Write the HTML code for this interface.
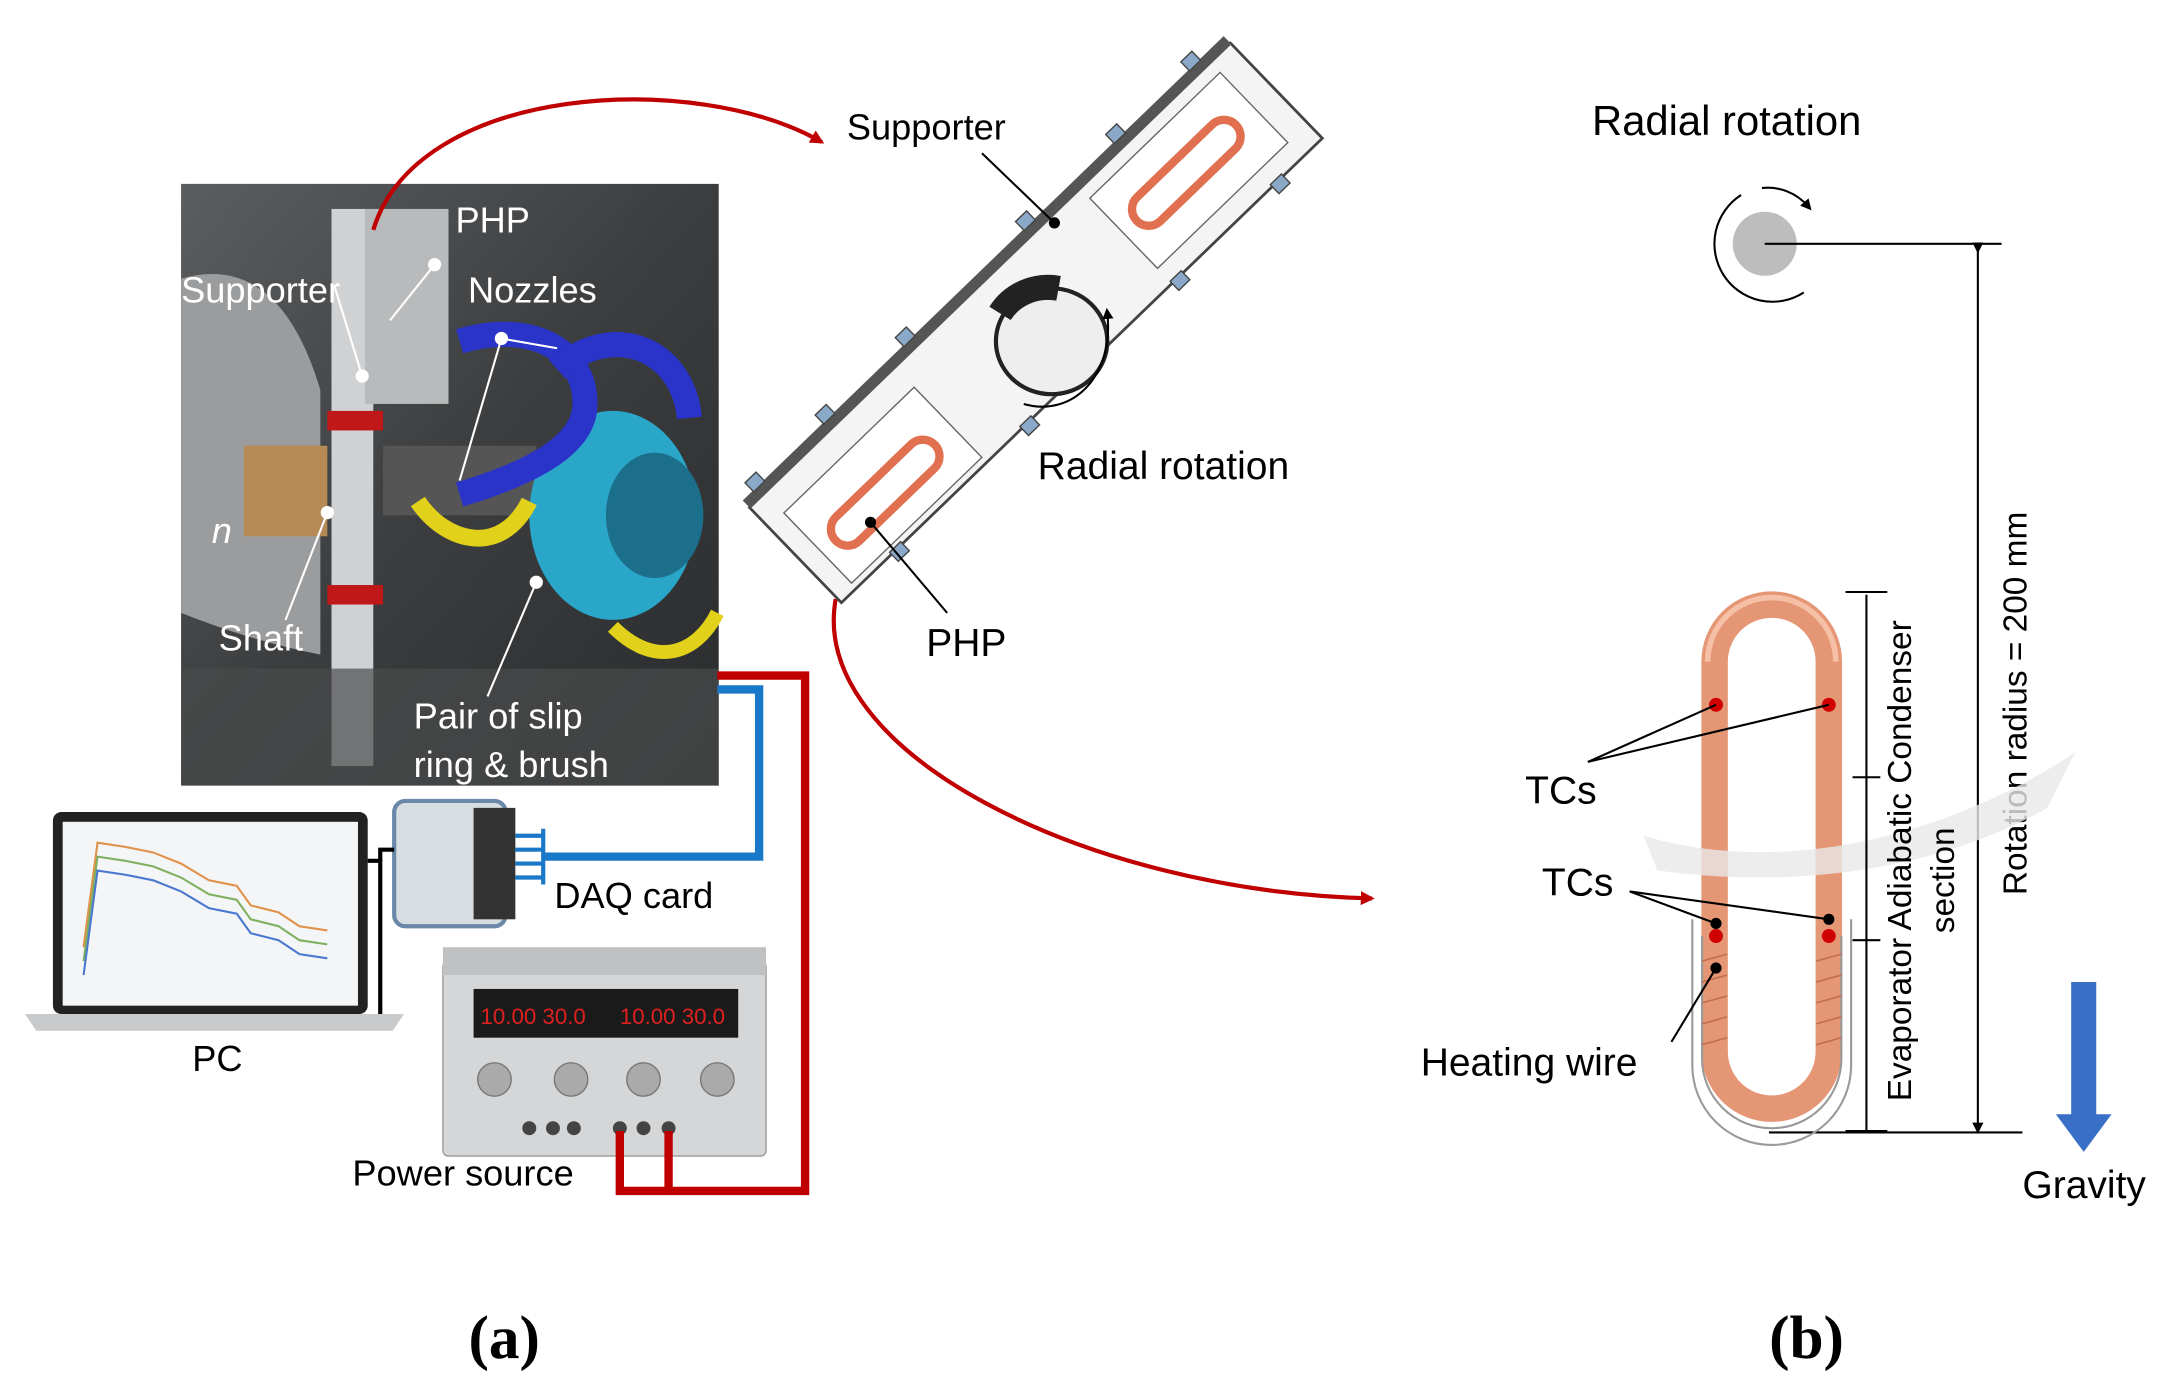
<!DOCTYPE html>
<html><head><meta charset="utf-8"><style>
html,body{margin:0;padding:0;background:#fff;}
svg{display:block;}
text{font-family:"Liberation Sans",sans-serif;}
</style></head><body>
<svg width="2184" height="1389" viewBox="0 0 1568 997.2" xmlns="http://www.w3.org/2000/svg">
<defs>
<marker id="ar" markerWidth="10" markerHeight="10" refX="8" refY="5" orient="auto" markerUnits="userSpaceOnUse"><path d="M0,0 L10,5 L0,10 Z" fill="#c00000"/></marker>
<marker id="ab" markerWidth="8" markerHeight="8" refX="4" refY="4" orient="auto" markerUnits="userSpaceOnUse"><path d="M0,0 L8,4 L0,8 Z" fill="#000"/></marker>
<linearGradient id="ph" x1="0" y1="0" x2="1" y2="1"><stop offset="0" stop-color="#5b5d5f"/><stop offset="0.5" stop-color="#3b3d3f"/><stop offset="1" stop-color="#2a2b2c"/></linearGradient>
</defs>

<!-- Photo (a) -->
<rect x="130" y="132" width="386" height="432" fill="url(#ph)"/>
<path d="M130,200 Q200,180 230,280 L230,470 Q180,460 130,440 Z" fill="#9a9c9e"/>
<rect x="238" y="150" width="30" height="400" fill="#cfd1d2"/>
<rect x="262" y="150" width="60" height="140" fill="#b8babb"/>
<rect x="235" y="295" width="40" height="14" fill="#c01818"/>
<rect x="235" y="420" width="40" height="14" fill="#c01818"/>
<rect x="175" y="320" width="60" height="65" fill="#b58a55"/>
<rect x="275" y="320" width="110" height="50" fill="#555"/>
<ellipse cx="440" cy="370" rx="60" ry="75" fill="#2aa6c9"/>
<ellipse cx="470" cy="370" rx="35" ry="45" fill="#1c6f8a"/>
<path d="M330,245 C380,230 420,250 420,290 C420,320 380,340 330,355" stroke="#2a34c8" stroke-width="18" fill="none"/>
<path d="M400,265 C440,230 490,250 495,300" stroke="#2a34c8" stroke-width="18" fill="none"/>
<path d="M300,360 C320,390 360,400 380,360" stroke="#e2d11a" stroke-width="12" fill="none"/>
<path d="M440,450 C470,480 500,470 515,440" stroke="#e2d11a" stroke-width="10" fill="none"/>
<rect x="130" y="480" width="386" height="84" fill="#4a4b4c" opacity="0.7"/>
<text x="327" y="167" font-size="26" fill="#fff">PHP</text>
<text x="130" y="217" font-size="26" fill="#fff">Supporter</text>
<text x="336" y="217" font-size="26" fill="#fff">Nozzles</text>
<text x="157" y="467" font-size="26" fill="#fff">Shaft</text>
<text x="152" y="390" font-size="26" fill="#fff" font-style="italic">n</text>
<text x="297" y="523" font-size="26" fill="#fff">Pair of slip</text>
<text x="297" y="558" font-size="26" fill="#fff">ring &amp; brush</text>
<g stroke="#fff" stroke-width="1.5" fill="#fff">
<line x1="312" y1="190" x2="280" y2="230"/><circle cx="312" cy="190" r="4"/>
<line x1="360" y1="243" x2="330" y2="345"/><circle cx="360" cy="243" r="4"/>
<line x1="360" y1="243" x2="400" y2="250"/>
<line x1="235" y1="368" x2="205" y2="445"/><circle cx="235" cy="368" r="4"/>
<line x1="385" y1="418" x2="350" y2="500"/><circle cx="385" cy="418" r="4"/>
<line x1="260" y1="270" x2="240" y2="205"/><circle cx="260" cy="270" r="4"/>
</g>

<!-- Laptop -->
<rect x="38" y="583" width="226" height="145" rx="6" fill="#222"/>
<rect x="45" y="590" width="212" height="132" fill="#f4f5f7"/>
<polyline points="60,680 70,605 90,608 110,612 130,620 150,632 170,636 180,650 200,655 215,665 235,668" stroke="#e0914a" stroke-width="1.5" fill="none"/>
<polyline points="60,690 70,615 90,618 110,622 130,630 150,642 170,646 180,660 200,665 215,675 235,678" stroke="#7fb060" stroke-width="1.5" fill="none"/>
<polyline points="60,700 70,625 90,628 110,632 130,640 150,652 170,656 180,670 200,675 215,685 235,688" stroke="#4a78d0" stroke-width="1.5" fill="none"/>
<path d="M18,728 L290,728 L282,740 L26,740 Z" fill="#c9cacc"/>
<text x="138" y="769" font-size="26">PC</text>
<polyline points="264,618 273,618 273,728" stroke="#000" stroke-width="3" fill="none"/>
<!-- DAQ -->
<rect x="283" y="575" width="80" height="90" rx="8" fill="#d8dde2" stroke="#6a88a8" stroke-width="3"/>
<rect x="340" y="580" width="30" height="80" fill="#333"/>
<polyline points="283,610 273,610 273,618" stroke="#000" stroke-width="3" fill="none"/>
<g stroke="#1a78c8" stroke-width="3"><line x1="370" y1="600" x2="390" y2="600"/><line x1="370" y1="610" x2="390" y2="610"/><line x1="370" y1="620" x2="390" y2="620"/><line x1="370" y1="630" x2="390" y2="630"/><line x1="390" y1="595" x2="390" y2="635"/></g>
<text x="398" y="652" font-size="26">DAQ card</text>
<polyline points="390,615 545,615 545,495 515,495" stroke="#1a78c8" stroke-width="6" fill="none"/>
<!-- Power source -->
<rect x="318" y="690" width="232" height="140" rx="4" fill="#d4d6d8" stroke="#999"/>
<rect x="318" y="680" width="232" height="20" fill="#bfc1c3"/>
<rect x="340" y="710" width="190" height="35" fill="#1a1a1a"/>
<text x="345" y="735" font-size="16" fill="#e02020">10.00 30.0</text>
<text x="445" y="735" font-size="16" fill="#e02020">10.00 30.0</text>
<g fill="#aaa" stroke="#777"><circle cx="355" cy="775" r="12"/><circle cx="410" cy="775" r="12"/><circle cx="462" cy="775" r="12"/><circle cx="515" cy="775" r="12"/></g>
<g fill="#444"><circle cx="380" cy="810" r="5"/><circle cx="397" cy="810" r="5"/><circle cx="412" cy="810" r="5"/><circle cx="445" cy="810" r="5"/><circle cx="462" cy="810" r="5"/><circle cx="480" cy="810" r="5"/></g>
<text x="253" y="851" font-size="26">Power source</text>
<polyline points="445,812 445,855 578,855 578,485 515,485" stroke="#c00000" stroke-width="6" fill="none"/>
<polyline points="480,812 480,855" stroke="#c00000" stroke-width="6" fill="none"/>

<!-- Red curved arrows -->
<path d="M268,165 C300,60 500,50 590,102" stroke="#c00000" stroke-width="3" fill="none" marker-end="url(#ar)"/>
<path d="M600,430 C580,540 780,640 985,645" stroke="#c00000" stroke-width="3" fill="none" marker-end="url(#ar)"/>

<!-- Supporter assembly -->
<g transform="translate(742,230) rotate(-44)">
<rect x="-240" y="-45" width="480" height="95" fill="#f4f4f4" stroke="#444" stroke-width="2"/>
<rect x="-240" y="-52" width="480" height="8" fill="#555"/>
<rect x="90" y="-35" width="130" height="70" fill="#fff" stroke="#666"/>
<rect x="-225" y="-25" width="130" height="70" fill="#fff" stroke="#666"/>
<path d="M115,-12 L190,-12 A12,12 0 0 1 190,12 L115,12 A12,12 0 0 1 115,-12 Z" stroke="#e07050" stroke-width="6" fill="none"/>
<path d="M-200,3 L-125,3 A12,12 0 0 1 -125,27 L-200,27 A12,12 0 0 1 -200,3 Z" stroke="#e07050" stroke-width="6" fill="none"/>
<g fill="#8aa8c8" stroke="#444"><rect x="-230" y="-60" width="11" height="9"/><rect x="-160" y="-60" width="11" height="9"/><rect x="-80" y="-60" width="11" height="9"/><rect x="40" y="-60" width="11" height="9"/><rect x="130" y="-60" width="11" height="9"/><rect x="205" y="-60" width="11" height="9"/><rect x="-190" y="48" width="11" height="9"/><rect x="-60" y="48" width="11" height="9"/><rect x="90" y="48" width="11" height="9"/><rect x="190" y="48" width="11" height="9"/></g>
</g>
<ellipse cx="755" cy="245" rx="40" ry="38" fill="#eee" stroke="#222" stroke-width="3"/>
<path d="M718,225 A40,38 0 0 1 760,207" stroke="#222" stroke-width="18" fill="none"/>
<path d="M735,290 C770,300 800,270 795,225" stroke="#000" stroke-width="1.5" fill="none" marker-end="url(#ab)"/>
<text x="608" y="100" font-size="26">Supporter</text>
<line x1="705" y1="110" x2="757" y2="160" stroke="#000" stroke-width="1.5"/><circle cx="757" cy="160" r="4"/>
<text x="745" y="344" font-size="28">Radial rotation</text>
<text x="665" y="471" font-size="28">PHP</text>
<line x1="680" y1="440" x2="625" y2="375" stroke="#000" stroke-width="1.5"/><circle cx="625" cy="375" r="4"/>

<!-- (b) -->
<text x="1143" y="97" font-size="30">Radial rotation</text>
<circle cx="1267" cy="175" r="23" fill="#bdbdbd"/>
<path d="M1250,140 A38,38 0 1 0 1295,210" stroke="#000" stroke-width="1.5" fill="none"/>
<path d="M1265,135 A38,38 0 0 1 1298,148" stroke="#000" stroke-width="1.5" fill="none" marker-end="url(#ab)"/>
<line x1="1267" y1="175" x2="1437" y2="175" stroke="#000" stroke-width="1.5"/>
<line x1="1420" y1="178" x2="1420" y2="810" stroke="#000" stroke-width="1.5" marker-start="url(#ab)" marker-end="url(#ab)"/>
<line x1="1270" y1="813" x2="1452" y2="813" stroke="#000" stroke-width="1.5"/>
<text transform="translate(1455,505) rotate(-90)" font-size="24" text-anchor="middle">Rotation radius = 200 mm</text>
<!-- U tube -->
<path d="M1231,475 A41,41 0 0 1 1313,475 L1313,755 A41,41 0 0 1 1231,755 Z" stroke="#e59675" stroke-width="19" fill="none"/>
<path d="M1226,475 A46,46 0 0 1 1318,475" stroke="#f6c0a6" stroke-width="4" fill="none"/>
<path d="M1222,672 L1222,760 A50,50 0 0 0 1322,760 L1322,672" stroke="#999" stroke-width="1.5" fill="none"/>
<path d="M1215,660 L1215,765 A57,57 0 0 0 1329,765 L1329,660" stroke="#999" stroke-width="1.5" fill="none"/>
<g stroke="#c07050" stroke-width="1.2"><line x1="1222" y1="690" x2="1240" y2="685"/><line x1="1222" y1="705" x2="1240" y2="700"/><line x1="1222" y1="720" x2="1240" y2="715"/><line x1="1222" y1="735" x2="1240" y2="730"/><line x1="1222" y1="750" x2="1240" y2="745"/><line x1="1304" y1="690" x2="1322" y2="685"/><line x1="1304" y1="705" x2="1322" y2="700"/><line x1="1304" y1="720" x2="1322" y2="715"/><line x1="1304" y1="735" x2="1322" y2="730"/><line x1="1304" y1="750" x2="1322" y2="745"/></g>
<path d="M1180,600 C1280,630 1400,600 1490,540 L1470,580 C1400,620 1300,640 1190,625 Z" fill="#e8e8e8" opacity="0.8"/>
<g fill="#d00000"><circle cx="1232" cy="506" r="5"/><circle cx="1313" cy="506" r="5"/><circle cx="1232" cy="672" r="5"/><circle cx="1313" cy="672" r="5"/></g>
<g fill="#000"><circle cx="1232" cy="663" r="4"/><circle cx="1313" cy="660" r="4"/></g>
<text x="1095" y="577" font-size="28">TCs</text>
<text x="1107" y="643" font-size="28">TCs</text>
<text x="1020" y="772" font-size="28">Heating wire</text>
<g stroke="#000" stroke-width="1.5"><line x1="1140" y1="547" x2="1232" y2="506"/><line x1="1140" y1="547" x2="1313" y2="506"/><line x1="1170" y1="640" x2="1232" y2="663"/><line x1="1170" y1="640" x2="1313" y2="660"/><line x1="1200" y1="748" x2="1232" y2="695"/></g>
<circle cx="1232" cy="695" r="4"/>
<g stroke="#000" stroke-width="1.5"><line x1="1340" y1="427" x2="1340" y2="812"/><line x1="1325" y1="425" x2="1355" y2="425"/><line x1="1330" y1="558" x2="1350" y2="558"/><line x1="1330" y1="675" x2="1350" y2="675"/><line x1="1325" y1="812" x2="1355" y2="812"/></g>
<text transform="translate(1372,618) rotate(-90)" font-size="24" text-anchor="middle">Evaporator Adiabatic Condenser</text>
<text transform="translate(1403,632) rotate(-90)" font-size="24" text-anchor="middle">section</text>
<!-- Gravity -->
<path d="M1487,705 L1505,705 L1505,800 L1516,800 L1496,827 L1476,800 L1487,800 Z" fill="#3a6fc8"/>
<text x="1452" y="860" font-size="28">Gravity</text>

<text x="362" y="975" font-size="44" font-weight="bold" text-anchor="middle" style="font-family:'Liberation Serif',serif">(a)</text>
<text x="1297" y="975" font-size="44" font-weight="bold" text-anchor="middle" style="font-family:'Liberation Serif',serif">(b)</text>
</svg>
</body></html>
